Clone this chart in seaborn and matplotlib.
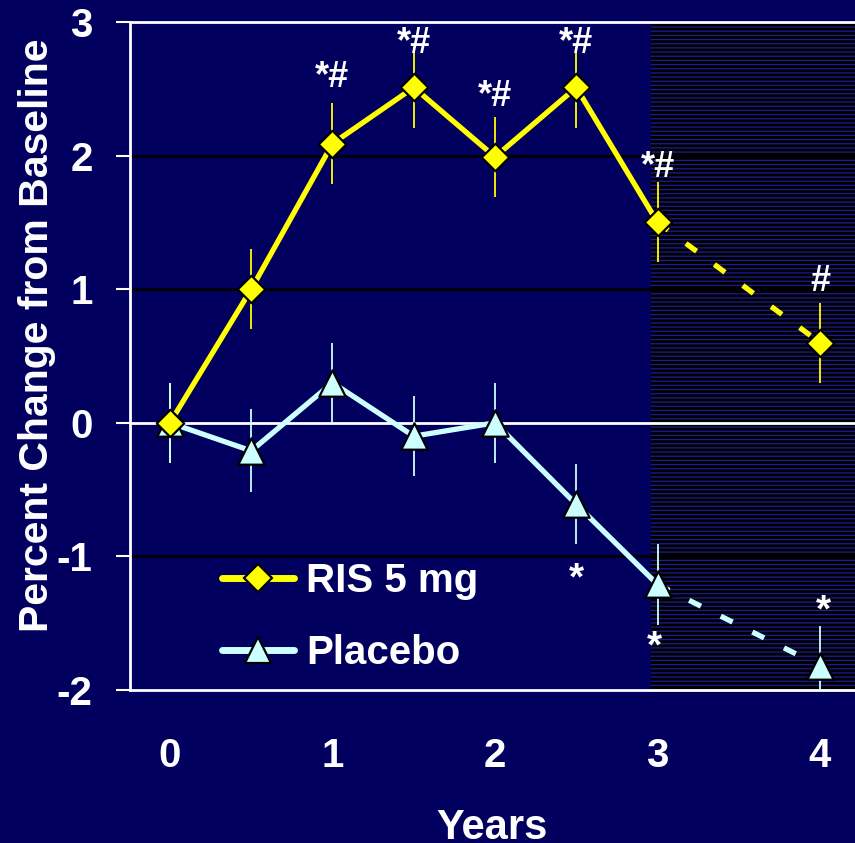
import numpy as np
import pandas as pd
import matplotlib
matplotlib.use("Agg")
import matplotlib.pyplot as plt
import seaborn as sns
from matplotlib.lines import Line2D

# data
years = [0, 0.5, 1, 1.5, 2, 2.5, 3, 4]
ris = [0, 1.0, 2.09, 2.51, 1.99, 2.51, 1.50, 0.60]
ris_err = [0.3, 0.3, 0.3, 0.3, 0.3, 0.3, 0.3, 0.3]
placebo = [0, -0.21, 0.30, -0.10, 0.0, -0.61, -1.21, -1.82]
placebo_err = [0.3, 0.31, 0.3, 0.3, 0.3, 0.3, 0.3, 0.3]

# significance marks
ris_mark_x = [1, 1.5, 2, 2.5, 3, 4]
ris_mark_y = [2.51, 2.77, 2.37, 2.77, 1.84, 0.99]
ris_mark_txt = ["*#", "*#", "*#", "*#", "*#", "#"]
plc_mark_x = [2.5, 2.98, 4.02]
plc_mark_y = [-1.25, -1.76, -1.49]

bg = "#02005e"
yellow = "#ffff00"
cyan = "#ccffff"

sns.set_style("dark")
plt.rcParams["font.family"] = ["Liberation Sans", "DejaVu Sans"]
plt.rcParams["font.weight"] = "bold"
plt.rcParams["axes.unicode_minus"] = False
plt.rcParams["hatch.linewidth"] = 0.9

df = pd.DataFrame({"years": years, "ris": ris, "placebo": placebo})
solid = df.iloc[:7]
dashed = df.iloc[6:]

fig = plt.figure(figsize=(8.55, 8.43), dpi=100, facecolor=bg)
ax = fig.add_axes([130 / 855, 153 / 843, 725 / 855, 668 / 843])
ax.set_facecolor(bg)

# shaded extension period
ax.axvspan(2.96, 4.3, facecolor="black", edgecolor="#1c1c96", hatch="----",
           linewidth=0, zorder=0.5)

# grid
for g in [2, 1, -1]:
    ax.axhline(g, color="black", lw=2, zorder=1)
ax.axhline(0, color="white", lw=2, zorder=1)

# lines
sns.lineplot(data=solid, x="years", y="ris", color=yellow, lw=3.8, ax=ax, zorder=2)
sns.lineplot(data=dashed, x="years", y="ris", color=yellow, lw=3.8, ax=ax,
             zorder=2, dashes=False, linestyle=(0, (2.5, 4.2)))
sns.lineplot(data=solid, x="years", y="placebo", color=cyan, lw=3.8, ax=ax, zorder=2)
sns.lineplot(data=dashed, x="years", y="placebo", color=cyan, lw=3.8, ax=ax,
             zorder=2, dashes=False, linestyle=(0, (2.5, 4.2)))

# error bars
ax.errorbar(years, ris, yerr=ris_err, fmt="none", ecolor=yellow, elinewidth=1.3, zorder=3)
ax.errorbar(years, placebo, yerr=placebo_err, fmt="none", ecolor=cyan, elinewidth=1.3, zorder=3)

# markers
sns.scatterplot(data=df, x="years", y="ris", marker="D", s=14 ** 2, color=yellow,
                edgecolor="black", linewidth=1.6, ax=ax, zorder=5)
sns.scatterplot(data=df, x="years", y="placebo", marker="^", s=19 ** 2, color=cyan,
                edgecolor="black", linewidth=1.6, ax=ax, zorder=4)

for x, y, t in zip(ris_mark_x, ris_mark_y, ris_mark_txt):
    ax.text(x, y, t, color="white", fontsize=26, fontweight="bold",
            ha="center", va="baseline", zorder=6)
for x, y in zip(plc_mark_x, plc_mark_y):
    ax.text(x, y, "*", color="white", fontsize=28, fontweight="bold",
            ha="center", va="baseline", zorder=6)

ax.set_xlim(-0.246, 4.215)
ax.set_ylim(-2, 3)
ax.set_xticks([0, 1, 2, 3, 4])
ax.set_yticks([-2, -1, 0, 1, 2, 3])
ax.tick_params(axis="x", length=0, pad=34, labelsize=29, labelcolor="white")
ax.tick_params(axis="y", length=10, width=1.5, color="white", pad=17,
               labelsize=29, labelcolor="white", left=True, direction="out")
for lab in ax.get_xticklabels() + ax.get_yticklabels():
    lab.set_fontweight("bold")

for side in ["left", "top", "bottom"]:
    ax.spines[side].set_visible(True)
    ax.spines[side].set_color("white")
    ax.spines[side].set_linewidth(2)
ax.spines["right"].set_visible(False)
ax.grid(False)

# "Years" runs off the bottom edge, as on the slide
ax.set_xlabel("Years", fontsize=30, fontweight="bold", color="white")
ax.set_ylabel("Percent Change from Baseline", fontsize=29.5, fontweight="bold", color="white")
ax.xaxis.set_label_coords(0.5, -0.177)
ax.yaxis.set_label_coords(-0.102, 0.531)

handles = [
    Line2D([], [], color=yellow, lw=5, marker="D", ms=14, mfc=yellow, mec="black", mew=1.6),
    Line2D([], [], color=cyan, lw=5, marker="^", ms=19, mfc=cyan, mec="black", mew=1.6),
]
leg = ax.legend(handles, ["RIS 5 mg", "Placebo"], loc="center left",
                bbox_to_anchor=(222 / 855, 1 - 617 / 843), bbox_transform=fig.transFigure,
                frameon=False, fontsize=29, handlelength=1.78, handletextpad=0.3,
                labelspacing=0.85, borderpad=0, borderaxespad=0)
for t in leg.get_texts():
    t.set_color("white")
    t.set_fontweight("bold")

fig.savefig("out.png", dpi=100, facecolor=bg)
